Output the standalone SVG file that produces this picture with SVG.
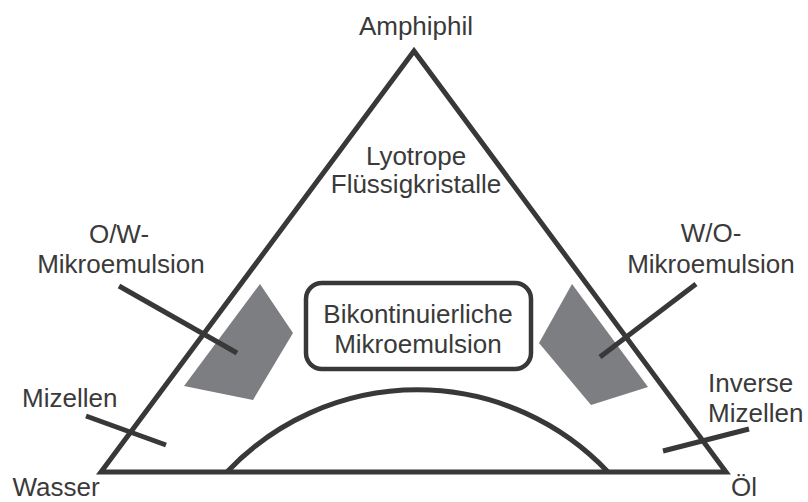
<svg xmlns="http://www.w3.org/2000/svg" width="808" height="502" viewBox="0 0 808 502">
<style>
.t{font-family:"Liberation Sans",Arial,sans-serif;font-size:26px;fill:#3a3a3a}
.m{text-anchor:middle}
.ln{stroke:#383838;stroke-width:5;fill:none}
.reg{fill:#7d7e82;stroke:none}
</style>
<rect width="808" height="502" fill="#ffffff"/>
<g id="regions">
<polygon id="ow-region" class="reg" points="260,284 293,333 253,400 184,386"/>
<polygon id="wo-region" class="reg" points="572,284 648,387 591,405 539,343"/>
</g>
<g id="triangle">
<polygon class="ln" points="414,51 101,472 726,472" stroke-linejoin="miter"/>
</g>
<g id="arc">
<path class="ln" stroke-width="4.5" d="M227,472 A262,262 0 0 1 608,472"/>
</g>
<g id="connectors">
<line class="ln" x1="119" y1="286" x2="237" y2="353"/>
<line class="ln" x1="86" y1="416" x2="166" y2="445"/>
<line class="ln" x1="696" y1="284" x2="600" y2="357"/>
<line class="ln" x1="749" y1="429" x2="663" y2="451"/>
</g>
<g id="bikontinuierlich">
<rect x="306" y="283" width="225" height="86" rx="16" ry="16" fill="#ffffff" stroke="#383838" stroke-width="4.5"/>
<text class="t m" x="418" y="323">Bikontinuierliche</text>
<text class="t m" x="418" y="353">Mikroemulsion</text>
</g>
<g id="amphiphil"><text class="t m" x="416" y="35">Amphiphil</text></g>
<g id="lyotrop">
<text class="t m" x="416" y="165">Lyotrope</text>
<text class="t m" x="416" y="193">Flüssigkristalle</text>
</g>
<g id="ow"><text class="t m" x="119" y="243">O/W-</text><text class="t m" x="121" y="273">Mikroemulsion</text></g>
<g id="wo"><text class="t m" x="711" y="242">W/O-</text><text class="t m" x="711" y="273">Mikroemulsion</text></g>
<g id="mizellen"><text class="t" x="22" y="407">Mizellen</text></g>
<g id="inverse"><text class="t" x="708" y="392">Inverse</text><text class="t" x="708" y="422">Mizellen</text></g>
<g id="wasser"><text class="t m" x="56" y="496">Wasser</text></g>
<g id="oel"><text class="t m" x="744" y="496">Öl</text></g>
</svg>
